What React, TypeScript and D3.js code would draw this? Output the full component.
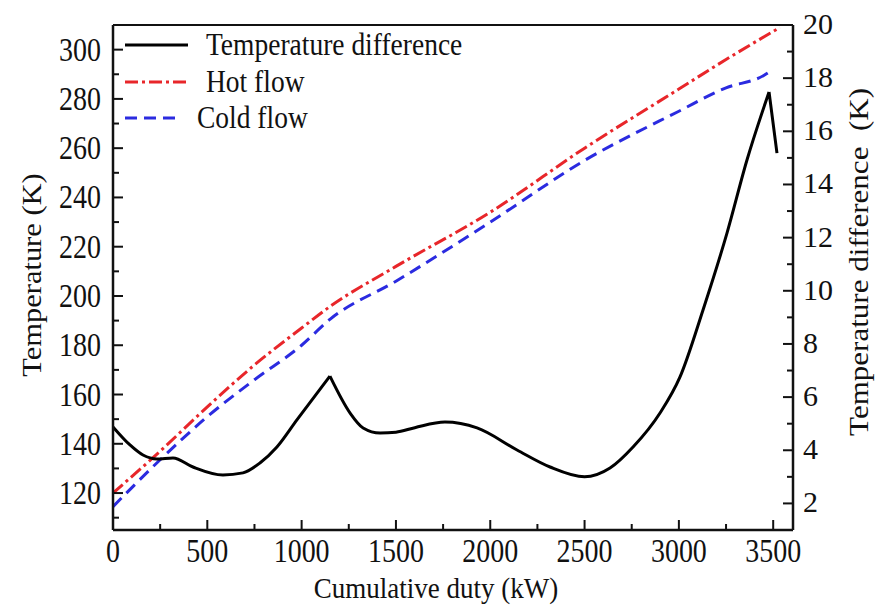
import React from "react";
import * as d3 from "d3";

const dutyHot = [0, 250, 500, 750, 1000, 1150, 1500, 2000, 2500, 3000, 3250, 3536];
const hotFlow = [120, 137, 155, 172, 187, 195.7, 212, 234, 260, 284, 296, 309];

const dutyCold = [0, 250, 500, 750, 1000, 1150, 1500, 2000, 2500, 3000, 3250, 3450, 3500];
const coldFlow = [114.5, 133.5, 151, 166, 180, 190.5, 206, 230, 255, 275, 284.5, 289.5, 292];

const dutyDiff = [0, 90, 159, 233, 318, 424, 583, 689, 779, 869, 975, 1150, 1257, 1326, 1416, 1500, 1600, 1760, 1930, 2142, 2317, 2500, 2635, 2757, 2900, 3006, 3128, 3255, 3361, 3478, 3520];
const tempDiff = [4.88, 4.2, 3.82, 3.67, 3.71, 3.37, 3.07, 3.15, 3.52, 4.12, 5.14, 6.79, 5.4, 4.84, 4.65, 4.68, 4.85, 5.06, 4.84, 4.01, 3.37, 3.0, 3.33, 4.12, 5.4, 6.76, 9.28, 12.17, 14.92, 17.48, 15.18];
// indices where the temperature-difference curve has a sharp corner
const diffCorners = [11, 29];

const xTicks = [0, 500, 1000, 1500, 2000, 2500, 3000, 3500];
const leftTicks = [120, 140, 160, 180, 200, 220, 240, 260, 280, 300];
const rightTicks = [2, 4, 6, 8, 10, 12, 14, 16, 18, 20];

const legendLabels = ["Temperature difference", "Hot flow", "Cold flow"];

const FONT = "'Liberation Serif', 'Times New Roman', serif";

function T({ x, y, sy = 1.18, size = 28, anchor = "start", rotate = 0, children }: any) {
  const tr = rotate
    ? `translate(${x},${y}) rotate(${rotate}) scale(${sy},1)`
    : `translate(${x},${y}) scale(1,${sy})`;
  return (
    <text transform={tr} textAnchor={anchor} fontFamily={FONT} fontSize={size} fill="#111">
      {children}
    </text>
  );
}

export default function App() {
  const L = 113, R = 793, TOP = 25, B = 530;
  const x = d3.scaleLinear().domain([0, 3605]).range([L, R]);
  const yL = d3.scaleLinear().domain([105, 310]).range([B, TOP]);
  const yR = d3.scaleLinear().domain([1, 20]).range([B, TOP]);

  const hot = hotFlow.map((v, i) => [dutyHot[i], v] as [number, number]);
  const cold = coldFlow.map((v, i) => [dutyCold[i], v] as [number, number]);
  const diff = tempDiff.map((v, i) => [dutyDiff[i], v] as [number, number]);

  const lineL = d3.line<[number, number]>().x((d) => x(d[0])).y((d) => yL(d[1])).curve(d3.curveMonotoneX);
  const lineR = d3.line<[number, number]>().x((d) => x(d[0])).y((d) => yR(d[1])).curve(d3.curveMonotoneX);

  const bounds = [0, ...diffCorners, diff.length - 1];
  const diffPath = bounds.slice(0, -1).map((s, k) => lineR(diff.slice(s, bounds[k + 1] + 1)) || "").join("");

  const xMinor = d3.range(0, 3605, 250).filter((v) => v % 500 !== 0);
  const lMinor = d3.range(110, 311, 10).filter((v) => v % 20 !== 0);
  const rMinor = d3.range(1, 20, 1).filter((v) => v % 2 !== 0);

  const legendY = [45, 82, 118];
  const legendTextX = [206, 206, 197];
  const legendEnd = [188, 188, 180];
  const styles = [
    { stroke: "#000", dash: undefined as any },
    { stroke: "#e8262a", dash: "13 4 3 4" },
    { stroke: "#2b2be0", dash: "12 7" },
  ];

  return (
    <svg width={880} height={608} style={{ position: "absolute", left: 0, top: 0, background: "#fff" }}>
      <rect x={0} y={0} width={880} height={608} fill="#fff" />
      <defs>
        <clipPath id="plot">
          <rect x={L} y={TOP - 4} width={R - L} height={B - TOP + 4} />
        </clipPath>
      </defs>

      {/* data lines */}
      <g clipPath="url(#plot)" fill="none" strokeWidth={3}>
        <path d={lineL(hot) || ""} stroke={styles[1].stroke} strokeDasharray={styles[1].dash} />
        <path d={lineL(cold) || ""} stroke={styles[2].stroke} strokeDasharray={styles[2].dash} />
        <path d={diffPath} stroke="#000" strokeLinejoin="round" />
      </g>

      {/* frame */}
      <g stroke="#111" strokeWidth={2.5} fill="none">
        <line x1={L} x2={R} y1={B} y2={B} />
        <line x1={L} x2={L} y1={TOP} y2={B} />
        <line x1={R} x2={R} y1={TOP} y2={B} />
        <line x1={L} x2={R} y1={TOP} y2={TOP} strokeWidth={2} />
      </g>

      {/* ticks */}
      <g stroke="#111" strokeWidth={2}>
        {xTicks.map((t) => <line key={"xt" + t} x1={x(t)} x2={x(t)} y1={B} y2={B - 10} />)}
        {xMinor.map((t) => <line key={"xm" + t} x1={x(t)} x2={x(t)} y1={B} y2={B - 6} />)}
        {leftTicks.map((t) => <line key={"lt" + t} x1={L} x2={L + 10} y1={yL(t)} y2={yL(t)} />)}
        {lMinor.map((t) => <line key={"lm" + t} x1={L} x2={L + 6} y1={yL(t)} y2={yL(t)} />)}
        {rightTicks.map((t) => <line key={"rt" + t} x1={R} x2={R - 10} y1={yR(t)} y2={yR(t)} />)}
        {rMinor.map((t) => <line key={"rm" + t} x1={R} x2={R - 6} y1={yR(t)} y2={yR(t)} />)}
      </g>

      {/* tick labels */}
      {xTicks.map((t) => (
        <T key={"xl" + t} x={x(t)} y={562} anchor="middle">{t}</T>
      ))}
      {leftTicks.map((t) => (
        <T key={"ll" + t} x={101} y={yL(t) + 11} anchor="end">{t}</T>
      ))}
      {rightTicks.map((t) => (
        <T key={"rl" + t} x={803} y={yR(t) + 9} size={30} sy={1.0}>{t}</T>
      ))}

      {/* axis titles */}
      <T x={436} y={598} anchor="middle" size={27} sy={1.1}>Cumulative duty (kW)</T>
      <T x={41} y={275} anchor="middle" rotate={-90} size={26.5} sy={1.15}>Temperature (K)</T>
      <T x={868} y={88} anchor="end" rotate={-90} size={27} sy={1.15}>{"Temperature difference\u00a0 (K)"}</T>

      {/* legend */}
      {legendLabels.map((lab, i) => (
        <g key={"lg" + i}>
          <line x1={125} x2={legendEnd[i]} y1={legendY[i]} y2={legendY[i]} stroke={styles[i].stroke}
            strokeWidth={3} strokeDasharray={styles[i].dash} />
          <T x={legendTextX[i]} y={legendY[i] + 10} size={27.5} sy={1.12}>{lab}</T>
        </g>
      ))}
    </svg>
  );
}
